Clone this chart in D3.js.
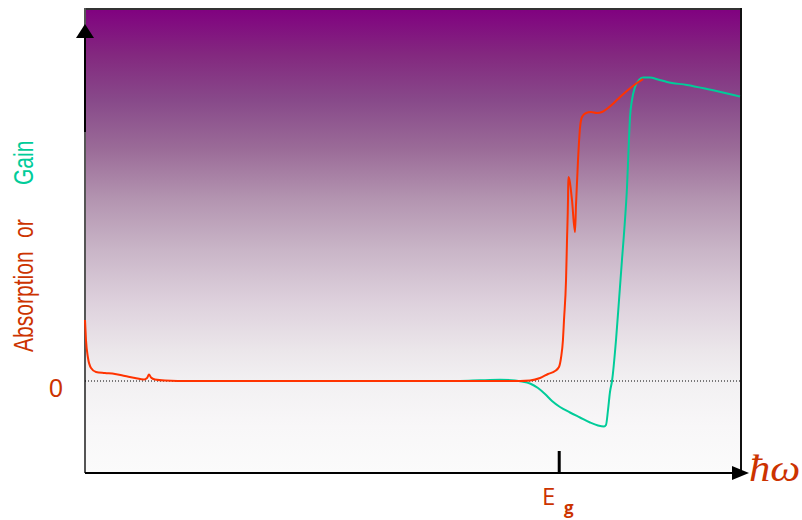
<!DOCTYPE html>
<html>
<head>
<meta charset="utf-8">
<script src="https://cdn.jsdelivr.net/npm/d3@7"></script>
<style>
  body { margin: 0; background: #fff; }
  svg { display: block; }
</style>
</head>
<body>
<div id="chart"></div>
<script>
// photon energy (arbitrary units, 0..100) and response (arbitrary units)
const absEnergy = [0, 0.15, 0.46, 0.92, 1.68, 3.05, 4.58, 6.11, 7.63, 9.01, 9.47, 9.77, 10.08, 10.69, 12.21, 16.03,
    40, 60.31, 66.41, 67.94, 69.47, 70.69, 71.76, 72.36, 72.67, 72.97, 73.13, 73.44, 73.59, 73.74, 73.79, 73.97,
    74.35, 74.81, 74.96, 75.27, 75.57, 75.88, 76.49, 77.25, 78.17, 78.93, 79.85, 81.37, 82.90, 84.27, 85.2];
const absValue = [0.61, 0.41, 0.23, 0.13, 0.09, 0.08, 0.07, 0.05, 0.03, 0.015, 0.03, 0.065, 0.035, 0.015, 0.005, 0,
    0, 0, 0, 0.005, 0.03, 0.07, 0.10, 0.14, 0.23, 0.41, 0.61, 1.01, 1.41, 1.81, 2.04, 2.01,
    1.81, 1.49, 1.76, 2.21, 2.53, 2.64, 2.68, 2.69, 2.68, 2.69, 2.73, 2.82, 2.91, 2.98, 3.02];

const gainEnergy = [15.57, 32.82, 57.25, 60.31, 63.36, 65.65, 66.72, 67.94, 69.16, 70.23, 71.30, 72.52, 74.05,
    75.57, 77.10, 78.32, 79.24, 79.54, 79.85, 80.15, 80.46, 81.07, 81.53, 81.98, 82.44, 82.75, 82.98, 83.21,
    83.51, 83.97, 84.58, 85.19, 86.26, 87.48, 88.85, 91.91, 94.96, 100];
const gainValue = [0, 0, 0, 0.007, 0.012, 0.005, -0.005, -0.025, -0.07, -0.13, -0.20, -0.26, -0.315,
    -0.365, -0.415, -0.445, -0.455, -0.44, -0.29, -0.11, 0, 0.41, 0.81, 1.21, 1.61, 1.94, 2.31, 2.64,
    2.81, 2.94, 3.01, 3.035, 3.035, 3.015, 2.99, 2.96, 2.92, 2.845];

const gapEnergy = 72.4;

const absData = absEnergy.map((e, i) => ({ x: e, y: absValue[i] }));
const gainData = gainEnergy.map((e, i) => ({ x: e, y: gainValue[i] }));

const textRed = '#cc3300';
const lineRed = '#ff3300';
const green = '#00cc99';

const svg = d3.select('#chart')
    .append('svg')
    .attr('width', 802)
    .attr('height', 520);

const plot = { left: 85, right: 741, top: 8, bottom: 473 };

const x = d3.scaleLinear()
    .domain([0, 100])
    .range([plot.left, 740]);

const y = d3.scaleLinear()
    .domain([-0.92, 3.73])
    .range([plot.bottom, plot.top]);

// background gradient
const grad = svg.append('defs')
    .append('linearGradient')
    .attr('id', 'bg')
    .attr('x1', 0).attr('y1', 0).attr('x2', 0).attr('y2', 1);
[[0, '#800080'], [0.1, '#83287f'], [0.2, '#884a8a'], [0.305, '#9b6c98'], [0.41, '#b394b0'],
 [0.52, '#c9b5c7'], [0.63, '#ddd0dc'], [0.735, '#ebe6ea'], [0.8, '#f2f0f2'], [0.9, '#f8f7f8'], [1, '#fbfbfb']]
    .forEach(s => grad.append('stop').attr('offset', s[0]).attr('stop-color', s[1]));

svg.append('rect')
    .attr('x', plot.left)
    .attr('y', plot.top)
    .attr('width', plot.right - plot.left)
    .attr('height', plot.bottom - plot.top)
    .attr('fill', 'url(#bg)');

// frame
svg.append('line').attr('x1', plot.left).attr('x2', plot.right).attr('y1', plot.top + 1).attr('y2', plot.top + 1)
    .attr('stroke', '#333').attr('stroke-width', 2);
svg.append('line').attr('x1', plot.right).attr('x2', plot.right).attr('y1', plot.top).attr('y2', plot.bottom)
    .attr('stroke', '#111').attr('stroke-width', 2);
svg.append('line').attr('x1', plot.left).attr('x2', plot.left).attr('y1', plot.top).attr('y2', plot.bottom)
    .attr('stroke', '#555').attr('stroke-width', 2);

// zero line
svg.append('line')
    .attr('x1', plot.left).attr('x2', 740)
    .attr('y1', y(0)).attr('y2', y(0))
    .attr('stroke', '#000')
    .attr('stroke-width', 1)
    .attr('stroke-dasharray', '1,2');

const line = d3.line()
    .x(d => x(d.x))
    .y(d => y(d.y))
    .curve(d3.curveMonotoneX);

svg.append('path')
    .datum(gainData)
    .attr('fill', 'none')
    .attr('stroke', green)
    .attr('stroke-width', 2)
    .attr('d', line);

svg.append('path')
    .datum(absData)
    .attr('fill', 'none')
    .attr('stroke', lineRed)
    .attr('stroke-width', 2)
    .attr('d', line);

// axes arrows
svg.append('line').attr('x1', plot.left).attr('x2', 734).attr('y1', plot.bottom).attr('y2', plot.bottom)
    .attr('stroke', '#000').attr('stroke-width', 2);
svg.append('path').attr('d', 'M732,466 L749,473 L732,480 Z').attr('fill', '#000');

svg.append('line').attr('x1', plot.left).attr('x2', plot.left).attr('y1', 132).attr('y2', 36)
    .attr('stroke', '#000').attr('stroke-width', 2);
svg.append('path').attr('d', 'M76,38 L85,24 L94,38 Z').attr('fill', '#000');

// Eg tick
svg.append('line')
    .attr('x1', x(gapEnergy)).attr('x2', x(gapEnergy))
    .attr('y1', 451).attr('y2', plot.bottom)
    .attr('stroke', '#000').attr('stroke-width', 3);

svg.append('text')
    .attr('x', 542).attr('y', 505)
    .attr('fill', textRed)
    .attr('font-family', 'Open Sans, sans-serif')
    .attr('font-size', 24)
    .text('E');
svg.append('text')
    .attr('x', 564).attr('y', 514)
    .attr('fill', textRed)
    .attr('font-family', 'Open Sans, sans-serif')
    .attr('font-weight', 'bold')
    .attr('font-size', 17)
    .text('g');

svg.append('text')
    .attr('transform', 'translate(749,481) scale(1.15,1)')
    .attr('fill', textRed)
    .attr('font-family', 'Liberation Serif, serif')
    .attr('font-style', 'italic')
    .attr('font-size', 37)
    .text('ħω');

svg.append('text')
    .attr('x', 56).attr('y', 397)
    .attr('text-anchor', 'middle')
    .attr('fill', textRed)
    .attr('font-family', 'Liberation Sans, Arial, sans-serif')
    .attr('font-size', 25)
    .text('0');

// y label
const yLabel = [
    { text: 'Absorption', start: 352, color: textRed },
    { text: 'or', start: 238, color: textRed },
    { text: 'Gain', start: 185, color: green }
];
svg.selectAll('.ylab')
    .data(yLabel)
    .enter()
    .append('text')
    .attr('class', 'ylab')
    .attr('transform', d => `translate(33,${d.start}) rotate(-90) scale(0.78,1)`)
    .attr('fill', d => d.color)
    .attr('font-family', 'Liberation Sans, Arial, sans-serif')
    .attr('font-size', 27)
    .text(d => d.text);
</script>
</body>
</html>
